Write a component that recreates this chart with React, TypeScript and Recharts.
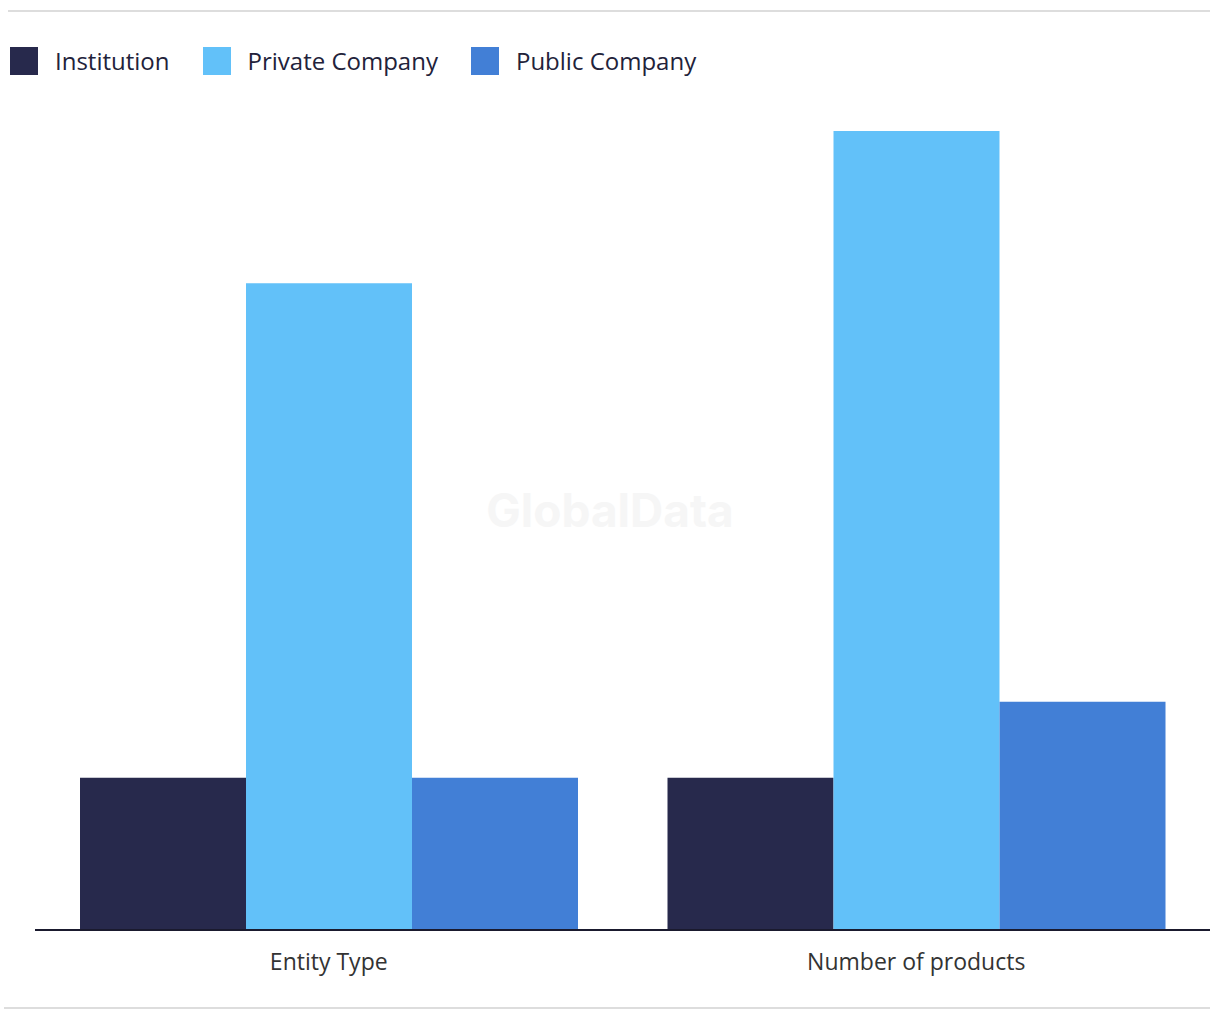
import React from 'react';
import { BarChart, Bar, XAxis, YAxis } from 'recharts';

const categories = ['Entity Type', 'Number of products'];
const institution = [4, 4];
const privateCompany = [17, 21];
const publicCompany = [4, 6];

const SERIES = [
  { key: 'institution', name: 'Institution', color: '#27294c' },
  { key: 'privateCompany', name: 'Private Company', color: '#62c1f9' },
  { key: 'publicCompany', name: 'Public Company', color: '#427fd6' },
];

const data = categories.map((c, i) => ({
  category: c,
  institution: institution[i],
  privateCompany: privateCompany[i],
  publicCompany: publicCompany[i],
}));

const FONT = '"Open Sans", "Noto Sans", sans-serif';

export default function App() {
  return (
    <div style={{ position: 'absolute', left: 0, top: 0, width: 1220, height: 1020, background: '#fff' }}>
      <div style={{ position: 'absolute', left: 8, top: 10, width: 1202, height: 2, background: '#dddddd' }} />
      <div style={{ position: 'absolute', left: 4, top: 1007, width: 1206, height: 2, background: '#dddddd' }} />
      {/* legend drawn by hand so the squares and spacing match */}
      <div
        style={{
          position: 'absolute',
          top: 44,
          left: 10,
          display: 'flex',
          alignItems: 'center',
          fontFamily: FONT,
          fontSize: 24,
          color: '#22223a',
        }}
      >
        {SERIES.map((s) => (
          <div key={s.key} style={{ display: 'flex', alignItems: 'center', marginRight: 33 }}>
            <span style={{ display: 'inline-block', width: 28, height: 28, background: s.color, marginRight: 17 }} />
            <span>{s.name}</span>
          </div>
        ))}
      </div>
      <div
        style={{
          position: 'absolute',
          left: 0,
          top: 482,
          width: 1220,
          textAlign: 'center',
          fontFamily: 'Inter, "Liberation Sans", sans-serif',
          fontWeight: 700,
          fontSize: 46,
          color: '#f6f6f6',
        }}
      >
        GlobalData
      </div>
      <div style={{ position: 'absolute', left: 0, top: 0 }}>
        <BarChart
          width={1220}
          height={1000}
          data={data}
          margin={{ top: 131, right: 10, bottom: 0, left: 35 }}
          barCategoryGap={45}
          barGap={0}
        >
          <XAxis
            dataKey="category"
            height={70}
            tickLine={false}
            axisLine={{ stroke: '#1a1a2e', strokeWidth: 2 }}
            tick={{ fill: '#333333', fontSize: 23, fontFamily: FONT }}
            dy={16}
          />
          <YAxis hide domain={[0, 21]} />
          {SERIES.map((s) => (
            <Bar key={s.key} dataKey={s.key} name={s.name} fill={s.color} isAnimationActive={false} />
          ))}
        </BarChart>
      </div>
    </div>
  );
}
